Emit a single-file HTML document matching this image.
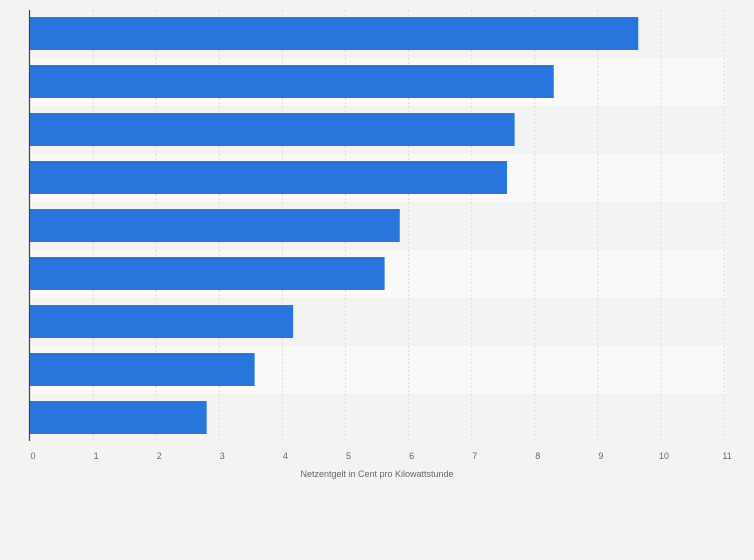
<!DOCTYPE html>
<html><head><meta charset="utf-8"><style>
body{margin:0;background:#f3f3f3;font-family:"Liberation Sans",sans-serif}
svg{display:block}
</style></head><body>
<svg id="c" width="754" height="560">
<rect width="754" height="560" fill="#f3f3f3"/>
<g id="rows"></g><g id="grid"></g><g id="bars"></g><g id="ticks"></g>
<line x1="29.5" y1="10" x2="29.5" y2="441" stroke="#444" stroke-width="1.2"/>
<text x="377" y="477" font-size="9" fill="#666" text-anchor="middle">Netzentgelt in Cent pro Kilowattstunde</text>
</svg>
<script>
const categories=["A","B","C","D","E","F","G","H","I"];
const values=[9.64,8.30,7.68,7.56,5.86,5.62,4.17,3.56,2.80];
const tickLabels=["0","1","2","3","4","5","6","7","8","9","10","11"];
{
const ns="http://www.w3.org/2000/svg";
const x0=30,unit=63.1,topY=10,rowH=48;
const xs=v=>x0+v*unit;
function mk(t,a,p){const e=document.createElementNS(ns,t);for(const k in a)e.setAttribute(k,a[k]);document.getElementById(p).appendChild(e);return e;}
categories.forEach((c,i)=>{
 const r=mk("rect",{x:30,y:topY+i*rowH,width:696,height:rowH,fill:i%2?"#f9f9f9":"#f3f3f3"},"rows");
 
 
});
tickLabels.forEach((t,i)=>{
 const x=xs(+t);
 if(i>0){const l=mk("line",{x1:x,y1:topY,x2:x,y2:441,stroke:"#ddd","stroke-dasharray":"2,2"},"grid");
 
 }
 const tx=mk("text",{x:x+3,y:459,"font-size":9,fill:"#666","text-anchor":"middle"},"ticks");
 tx.textContent=t;
 
 
});
values.forEach((v,i)=>{
 const b=mk("rect",{x:x0,y:topY+i*rowH+7,width:xs(v)-x0,height:33,fill:"#2876dd"},"bars");
 
 
});
}
</script>
</body></html>
